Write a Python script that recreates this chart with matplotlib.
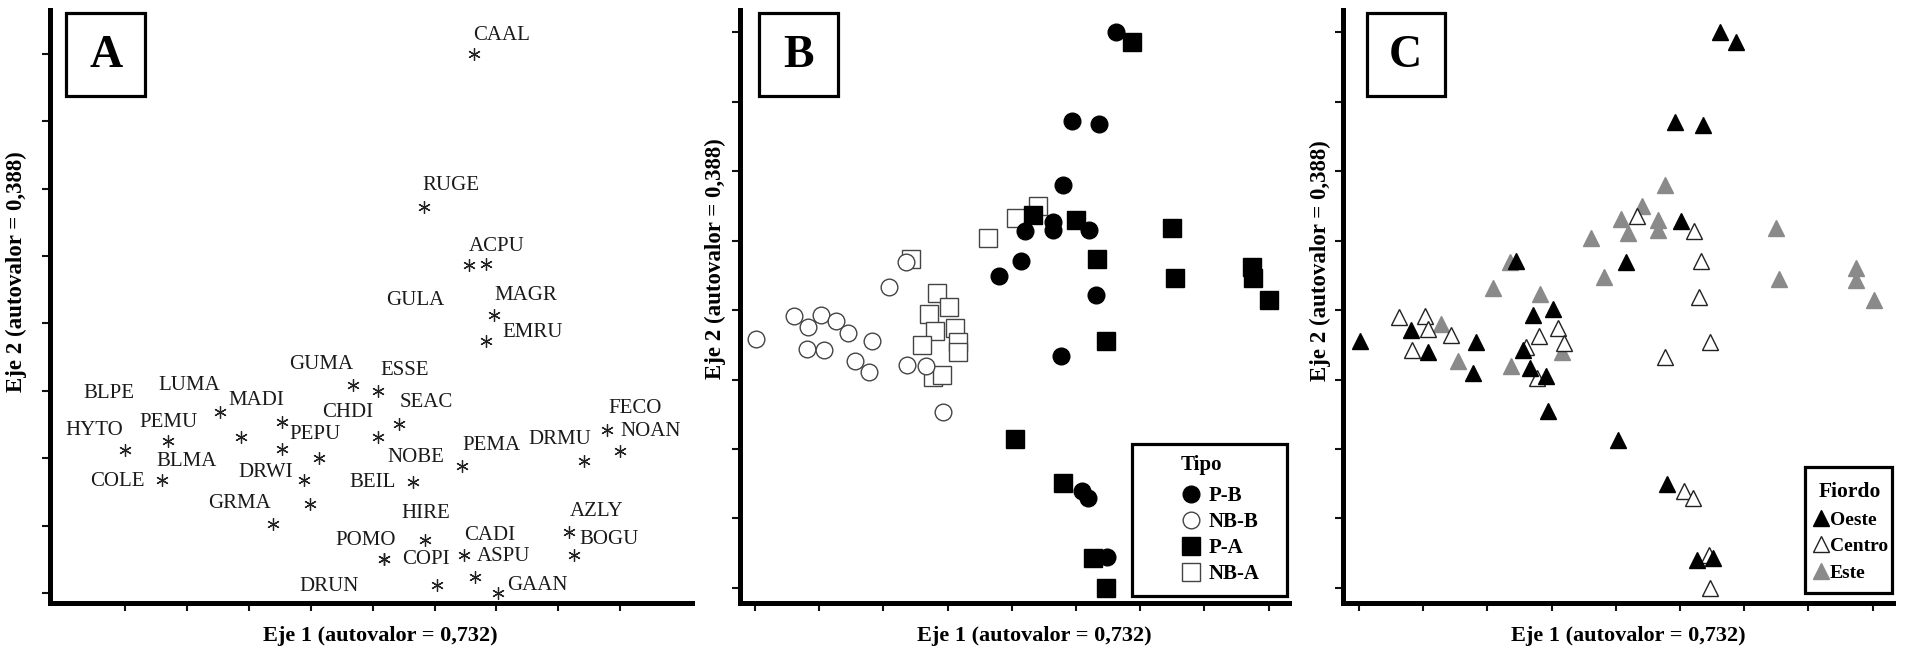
import matplotlib.pyplot as plt
from matplotlib.lines import Line2D
from matplotlib.patches import Rectangle

plt.rcParams['font.family'] = ['Liberation Serif', 'DejaVu Serif']

W, H = 1906, 654

# ---- panel A: species scores on the two axes ----
species = ['CAAL', 'RUGE', 'ACPU', 'GULA', 'MAGR', 'EMRU', 'GUMA', 'ESSE', 'BLPE',
           'LUMA', 'MADI', 'SEAC', 'CHDI', 'HYTO', 'PEMU', 'PEPU', 'FECO', 'NOAN',
           'DRMU', 'PEMA', 'NOBE', 'BLMA', 'COLE', 'DRWI', 'BEIL', 'GRMA', 'HIRE',
           'AZLY', 'BOGU', 'CADI', 'POMO', 'COPI', 'ASPU', 'DRUN', 'GAAN']
sp_x = [5.63, 4.83, 5.56, 5.83, 5.96, 5.83, 3.69, 4.09, 2.54,
        1.53, 1.87, 4.43, 4.09, 0.00, 0.70, 3.14, 7.79, 8.00,
        7.41, 5.45, 4.65, 0.60, 2.54, 2.89, 2.99, 2.39, 4.85,
        7.18, 7.25, 5.48, 4.19, 4.19, 5.66, 5.04, 6.03]
sp_y = [7.99, 5.73, 4.86, 4.88, 4.12, 3.74, 3.09, 3.00, 2.54,
        2.68, 2.32, 2.51, 2.32, 2.12, 2.26, 2.01, 2.42, 2.10,
        1.96, 1.89, 1.64, 1.68, 2.13, 1.68, 1.32, 1.03, 0.79,
        0.91, 0.56, 0.56, 0.50, 0.50, 0.24, 0.12, 0.00]
# where each name sits relative to its star (pixels)
lab_dx = [0, -2, 0, -100, 0, 16, -64, 2, -199,
          -61, -12, 0, -56, -60, -29, -30, 1, 0,
          -55, 0, -25, -6, -192, -66, 39, -65, -24,
          0, 6, 0, -49, 18, 1, -138, 9]
lab_dy = [19, 21, 19, -36, 20, 8, 20, 20, 28,
          27, 36, 21, 24, 20, 18, 23, 21, 20,
          21, 20, 25, 18, -32, 7, 22, 20, 26,
          20, 16, 20, 19, 0, 20, -2, 8]

# ---- panel B: sites by type ----
pb_x = [5.62, 4.93, 5.36, 4.79, 4.64, 4.64, 4.20, 5.21, 4.15, 3.80, 5.31, 4.76, 5.09, 5.19, 5.49]
pb_y = [8.00, 6.72, 6.68, 5.80, 5.27, 5.15, 5.13, 5.15, 4.71, 4.49, 4.21, 3.34, 1.39, 1.29, 0.45]
nbb_x = [0.01, 0.61, 0.83, 1.03, 1.26, 1.45, 1.82, 0.81, 1.07, 1.56, 1.78, 2.09, 2.35, 2.37, 2.66, 2.93]
nbb_y = [3.58, 3.91, 3.76, 3.93, 3.84, 3.67, 3.55, 3.44, 3.42, 3.27, 3.11, 4.33, 4.69, 3.21, 3.19, 2.53]
pa_x = [5.87, 4.33, 5.00, 6.49, 5.33, 7.74, 7.76, 6.54, 8.01, 5.46, 4.05, 4.79, 5.26, 5.46]
pa_y = [7.86, 5.37, 5.29, 5.18, 4.73, 4.62, 4.46, 4.46, 4.15, 3.56, 2.15, 1.51, 0.43, 0.00]
nba_x = [2.43, 3.63, 4.07, 4.41, 2.83, 3.02, 2.71, 3.12, 2.80, 2.60, 3.16, 3.16, 2.77, 2.91]
nba_y = [4.73, 5.04, 5.32, 5.50, 4.24, 4.04, 3.94, 3.74, 3.70, 3.50, 3.54, 3.40, 3.04, 3.06]
tipo_labels = ['P-B', 'NB-B', 'P-A', 'NB-A']

# ---- panel C: sites by fjord ----
oeste_x = [5.62, 5.88, 4.93, 5.36, 5.01, 4.16, 2.44, 2.71, 3.02, 0.02, 0.81, 1.08, 1.82,
           1.77, 2.56, 2.67, 2.92, 2.94, 4.03, 4.79, 5.26, 5.52]
oeste_y = [8.00, 7.86, 6.70, 6.66, 5.28, 4.69, 4.71, 3.93, 4.01, 3.56, 3.71, 3.40, 3.54,
           3.09, 3.43, 3.16, 3.05, 2.54, 2.13, 1.49, 0.40, 0.43]
centro_x = [4.33, 5.22, 5.32, 5.30, 0.62, 1.03, 1.08, 1.44, 2.80, 3.10, 0.83, 3.19, 2.60,
            2.78, 4.76, 5.47, 5.06, 5.20, 5.45, 5.46]
centro_y = [5.35, 5.14, 4.71, 4.19, 3.90, 3.91, 3.72, 3.64, 3.63, 3.74, 3.43, 3.53, 3.47,
            3.02, 3.33, 3.54, 1.39, 1.29, 0.47, 0.00]
este_x = [4.77, 4.41, 4.08, 4.19, 4.65, 4.65, 3.62, 6.50, 3.81, 6.54, 7.74, 7.74, 8.02,
          2.36, 2.09, 2.82, 1.27, 1.55, 2.37, 3.16]
este_y = [5.80, 5.50, 5.31, 5.11, 5.29, 5.15, 5.03, 5.18, 4.48, 4.44, 4.60, 4.43, 4.14,
          4.69, 4.31, 4.23, 3.80, 3.26, 3.19, 3.40]
fiordo_labels = ['Oeste', 'Centro', 'Este']

xlab = 'Eje 1 (autovalor = 0,732)'
ylab = 'Eje 2 (autovalor = 0,388)'


def fx(px):
    return px / W


def fy(py):
    return 1 - py / H


def style_axes(ax, xlim, ylim):
    ax.set_xlim(xlim)
    ax.set_ylim(ylim)
    ax.set_xticks(range(9))
    ax.set_yticks(range(9))
    ax.set_xticklabels([])
    ax.set_yticklabels([])
    ax.spines['top'].set_visible(False)
    ax.spines['right'].set_visible(False)
    ax.spines['left'].set_linewidth(3.6)
    ax.spines['bottom'].set_linewidth(3.6)
    ax.tick_params(direction='out', length=6, width=1.5, color='#111')


def panel_box(x0, x1, letter):
    fig.add_artist(Rectangle((fx(x0), fy(96)), (x1 - x0) / W, 83.3 / H,
                             transform=fig.transFigure, fill=False, lw=2.3, ec='black'))
    fig.text(fx((x0 + x1) / 2), fy(67), letter, ha='center', va='baseline',
             fontsize=33, weight='bold')


fig = plt.figure(figsize=(W / 100, H / 100), dpi=100)

axA = fig.add_axes([fx(50), fy(603), 642 / W, 593 / H])
axB = fig.add_axes([fx(740), fy(603), 549 / W, 593 / H])
axC = fig.add_axes([fx(1343), fy(603), 550 / W, 593 / H])

style_axes(axA, (-1.212, 9.16), (-0.148, 8.65))
style_axes(axB, (-0.234, 8.318), (-0.216, 8.317))
style_axes(axC, (-0.249, 8.318), (-0.216, 8.317))

# panel A
axA.plot(sp_x, sp_y, ls='none', marker=(6, 2, 0), ms=9, mew=0.9, color='#222')
for name, x, y, dx, dy in zip(species, sp_x, sp_y, lab_dx, lab_dy):
    axA.annotate(name, (x, y), xytext=(dx, dy), textcoords='offset pixels',
                 ha='left', va='center', fontsize=15, color='#1a1a1a')

# panel B
ms_c, ms_s = 12, 12.5
axB.plot(nba_x, nba_y, ls='none', marker='s', ms=ms_s, mfc='white', mec='#444', mew=1)
axB.plot(nbb_x, nbb_y, ls='none', marker='o', ms=ms_c, mfc='white', mec='#444', mew=1)
axB.plot(pb_x, pb_y, ls='none', marker='o', ms=ms_c, mfc='black', mec='black', clip_on=False)
axB.plot(pa_x, pa_y, ls='none', marker='s', ms=ms_s, mfc='black', mec='black', clip_on=False)

hB = [Line2D([], [], ls='none', marker='o', ms=ms_c, mfc='black', mec='black'),
      Line2D([], [], ls='none', marker='o', ms=ms_c, mfc='white', mec='#444', mew=1),
      Line2D([], [], ls='none', marker='s', ms=ms_s, mfc='black', mec='black'),
      Line2D([], [], ls='none', marker='s', ms=ms_s, mfc='white', mec='#444', mew=1)]
legB = axB.legend(hB, tipo_labels, title='Tipo', loc='upper left',
                  bbox_to_anchor=(fx(1181), fy(455)), bbox_transform=fig.transFigure,
                  frameon=False, borderpad=0, borderaxespad=0, handlelength=0.96,
                  handletextpad=0.38, labelspacing=0.285, alignment='left',
                  prop={'weight': 'bold', 'size': 15},
                  title_fontproperties={'weight': 'bold', 'size': 15})
legB._legend_box.sep = 8  # a little more room under the title
legB.set_zorder(10)
fig.add_artist(Rectangle((fx(1132), fy(596)), 155 / W, 152 / H, transform=fig.transFigure,
                         fill=False, lw=2.3, ec='black', zorder=10))

# panel C
ms_t = 12
grey = '#8a8a8a'
axC.plot(este_x, este_y, ls='none', marker='^', ms=ms_t, mfc=grey, mec=grey)
axC.plot(centro_x, centro_y, ls='none', marker='^', ms=ms_t, mfc='white', mec='#222', mew=1,
         clip_on=False)
axC.plot(oeste_x, oeste_y, ls='none', marker='^', ms=ms_t, mfc='black', mec='black')

hC = [Line2D([], [], ls='none', marker='^', ms=ms_t, mfc='black', mec='black'),
      Line2D([], [], ls='none', marker='^', ms=ms_t, mfc='white', mec='#222', mew=1),
      Line2D([], [], ls='none', marker='^', ms=ms_t, mfc=grey, mec=grey)]
legC = axC.legend(hC, fiordo_labels, title='Fiordo', loc='upper left',
                  bbox_to_anchor=(fx(1813), fy(482)), bbox_transform=fig.transFigure,
                  frameon=False, borderpad=0, borderaxespad=0, handlelength=0.8,
                  handletextpad=0.05, labelspacing=0.46,
                  prop={'weight': 'bold', 'size': 14},
                  title_fontproperties={'weight': 'bold', 'size': 15.5})
legC.set_zorder(10)
fig.add_artist(Rectangle((fx(1805), fy(593)), 87 / W, 126 / H, transform=fig.transFigure,
                         fill=False, lw=2.3, ec='black', zorder=10))

# panel letters
panel_box(66.5, 145, 'A')
panel_box(759, 838, 'B')
panel_box(1366.5, 1445, 'C')

# axis titles
for cx in (380, 1034, 1628):
    fig.text(fx(cx), fy(636), xlab, ha='center', va='center', fontsize=16, weight='bold')
for cx, cy in ((16, 272), (715, 259), (1320, 261)):
    fig.text(fx(cx), fy(cy), ylab, rotation=90, ha='center', va='center',
             fontsize=16.5, weight='bold')

fig.savefig('out.png', dpi=100, facecolor='white')
